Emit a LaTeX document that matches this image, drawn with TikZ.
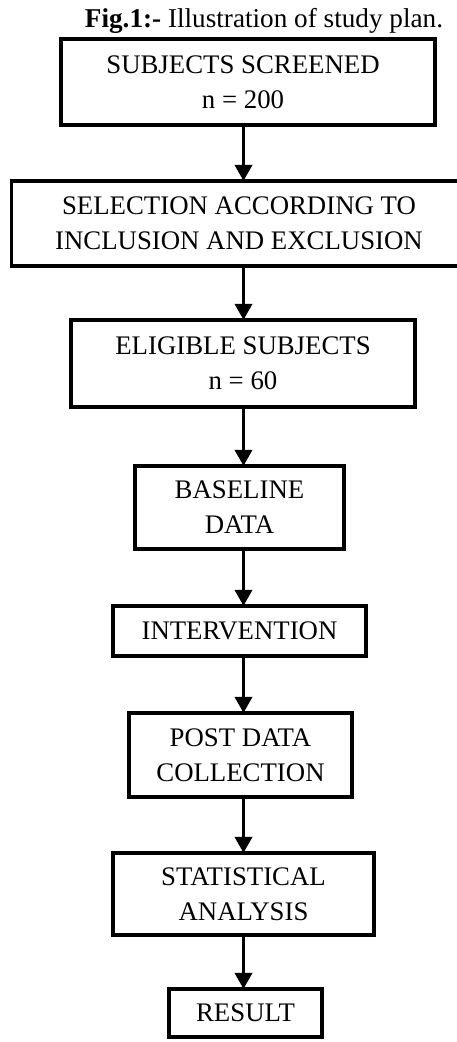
\documentclass[tikz,border=0pt]{standalone}
\usepackage{fontspec}
\setmainfont{Liberation Serif}
\usetikzlibrary{arrows.meta}
\tikzset{
  box/.style={draw=black, line width=3.8pt, inner sep=0pt, outer sep=0pt, align=center,
    font=\fontsize{26.8}{35}\selectfont},
  arr/.style={line width=3.6pt, -{Triangle[width=17pt,length=16pt]}}
}
\begin{document}
\begin{tikzpicture}[x=1pt,y=-1pt]
\useasboundingbox (0,0) rectangle (457,1042);
\node[anchor=base, font=\fontsize{27.2}{30}\selectfont] (title) at (264,27) {\textbf{Fig.1:-} Illustration of study plan.};
\node[box, minimum width=374.2pt, minimum height=86.2pt] (b1) at (248,82) {SUBJECTS SCREENED\hspace*{10pt}\\n = 200\hspace*{10pt}};
\node[box, minimum width=455.2pt, minimum height=85.2pt] (b2) at (239,223.5) {SELECTION ACCORDING TO\\INCLUSION AND EXCLUSION};
\node[box, minimum width=344.2pt, minimum height=87.2pt] (b3) at (243,363.5) {ELIGIBLE SUBJECTS\\n = 60};
\node[box, minimum width=209.2pt, minimum height=83.2pt] (b4) at (239.5,507.5) {BASELINE\\DATA};
\node[box, minimum width=253.2pt, minimum height=50.2pt] (b5) at (239.5,631) {INTERVENTION};
\node[box, minimum width=223.2pt, minimum height=84.2pt] (b6) at (240.5,755) {POST DATA\\COLLECTION};
\node[box, minimum width=261.2pt, minimum height=82.2pt] (b7) at (243.5,894) {STATISTICAL\\ANALYSIS};
\node[box, minimum width=153.2pt, minimum height=48.2pt] (b8) at (245.5,1013) {RESULT};
\coordinate (ax) at (243.5,0);
\draw[arr] (b1.south -| ax) -- (b2.north -| ax);
\draw[arr] (b2.south -| ax) -- (b3.north -| ax);
\draw[arr] (b3.south -| ax) -- (b4.north -| ax);
\draw[arr] (b4.south -| ax) -- (b5.north -| ax);
\draw[arr] (b5.south -| ax) -- (b6.north -| ax);
\draw[arr] (b6.south -| ax) -- (b7.north -| ax);
\draw[arr] (b7.south -| ax) -- (b8.north -| ax);
\end{tikzpicture}
\end{document}
